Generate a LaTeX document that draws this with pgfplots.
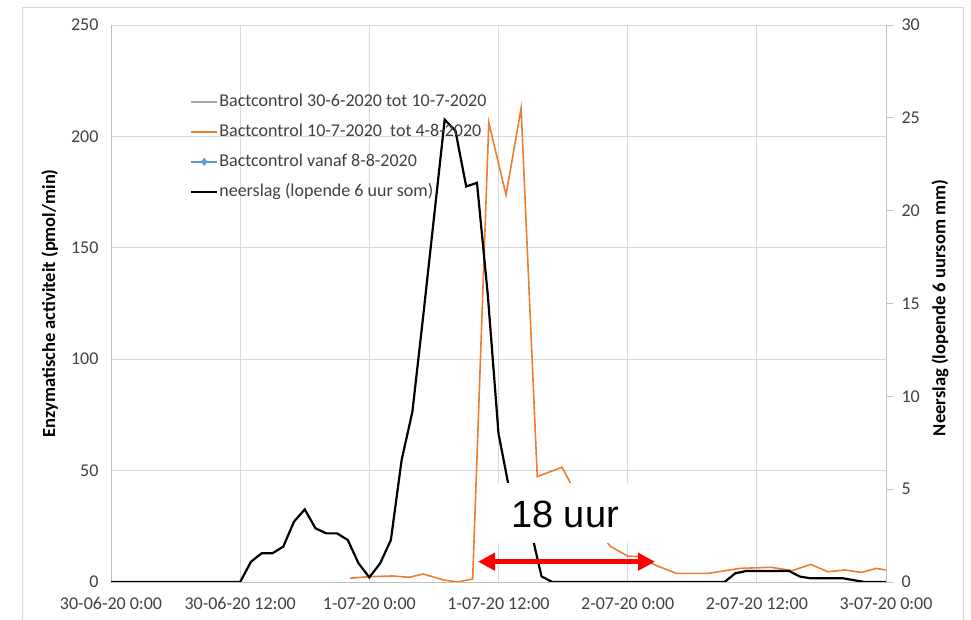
\documentclass[border=0pt]{standalone}
\usepackage{pgfplots}
\pgfplotsset{compat=1.18}
\usepackage{pgfplotstable}
\usepackage{fontspec}
\setmainfont{Carlito}
\newfontfamily\arialfont{Liberation Sans}
\usetikzlibrary{arrows.meta}

\definecolor{xlorange}{HTML}{ED7D31}
\definecolor{xlgray}{HTML}{A5A5A5}
\definecolor{xlblue}{HTML}{5B9BD5}
\definecolor{gridgray}{HTML}{D9D9D9}
\definecolor{axisgray}{HTML}{BFBFBF}
\definecolor{txtgray}{HTML}{404040}

% neerslag, lopende 6 uur som (mm), per uur vanaf 30-06-20 0:00
\pgfplotstableread{
h mm
0 0
1 0
2 0
3 0
4 0
5 0
6 0
7 0
8 0
9 0
10 0
11 0
12 0
13 1.09
14 1.55
15 1.55
16 1.9
17 3.25
18 3.91
19 2.89
20 2.62
21 2.62
22 2.26
23 1.0
24 0.25
25 1.0
26 2.26
27 6.57
28 9.17
29 14.3
30 19.6
31 24.9
32 24.3
33 21.3
34 21.5
35 15.5
36 8.0
37 5.0
38 3.9
39 2.8
40 0.3
41 0
42 0
43 0
44 0
45 0
46 0
47 0
48 0
49 0
50 0
51 0
52 0
53 0
54 0
55 0
56 0
57 0
58 0.47
59 0.59
60 0.59
61 0.59
62 0.59
63 0.59
64 0.29
65 0.2
66 0.2
67 0.2
68 0.2
69 0.1
70 0
71 0
72 0
}\neerslag

% Bactcontrol 10-7-2020 tot 4-8-2020 (pmol/min)
\pgfplotstableread{
h act
22.2 1.7
24.0 2.4
26.2 2.7
27.7 2.1
29.0 3.6
30.9 0.9
32.2 0.0
33.6 1.35
35.1 206.2
36.7 173.7
38.1 212.6
39.6 47.3
41.9 51.5
43.4 38.0
45.0 24.0
46.4 16.0
48.0 11.6
49.0 11.4
50.6 7.5
52.5 3.9
55.5 3.9
58.4 6.1
61.3 6.6
63.3 5.1
65.0 7.9
66.6 4.6
68.2 5.4
69.7 4.3
71.1 6.1
72.0 5.4
}\bactcontrol

\begin{document}
\begin{tikzpicture}[x=1pt,y=1pt]
\useasboundingbox (0,0) rectangle (971,620);
\draw[gridgray, line width=0.8pt] (22,-20) rectangle (963,613);

\begin{axis}[
  scale only axis, width=775pt, height=557pt,
  at={(111pt,38pt)}, anchor=south west,
  xmin=0, xmax=72, ymin=0, ymax=250,
  xtick={0,12,...,72},
  xticklabels={30-06-20 0:00, 30-06-20 12:00, 1-07-20 0:00, 1-07-20 12:00, 2-07-20 0:00, 2-07-20 12:00, 3-07-20 0:00},
  ytick={0,50,...,250},
  axis x line*=bottom, axis y line*=left,
  axis line style={draw=axisgray, line width=0.8pt, -},
  major tick length=0pt,
  grid=major, major grid style={gridgray, line width=0.8pt},
  tick label style={font=\fontsize{18}{20}\selectfont, text=txtgray},
  xticklabel style={yshift=-12pt},
  yticklabel style={xshift=-9pt},
  /pgf/number format/assume math mode=true,
  ylabel={Enzymatische activiteit (pmol/min)},
  ylabel style={font=\bfseries\fontsize{18.5}{20}\selectfont, at={(axis description cs:-0.079,0.5)}, anchor=center},
]
\addplot[xlorange, line width=1.6pt] table[x=h, y=act] {\bactcontrol};
\end{axis}

\begin{axis}[
  scale only axis, width=775pt, height=557pt,
  at={(111pt,38pt)}, anchor=south west,
  xmin=0, xmax=72, ymin=0, ymax=30,
  ytick={0,5,...,30}, xtick=\empty,
  axis y line*=right, axis x line=none,
  axis line style={draw=axisgray, line width=0.8pt, -},
  tick align=outside, major tick length=7pt,
  tick style={axisgray, line width=0.8pt},
  tick label style={font=\fontsize{18}{20}\selectfont, text=txtgray},
  yticklabel style={xshift=5pt},
  /pgf/number format/assume math mode=true,
  ylabel={Neerslag (lopende 6 uursom mm)},
  ylabel style={font=\bfseries\fontsize{18.5}{20}\selectfont, at={(axis description cs:1.0697,0.492)}, anchor=center},
  legend style={at={(axis description cs:0.098,0.883)}, anchor=north west,
    draw=none, fill=none, font=\fontsize{18}{20}\selectfont, text=txtgray,
    nodes={inner sep=1pt, text height=13pt, text depth=4pt}, row sep=11pt},
  legend cell align=left,
  legend image code/.code={\draw[mark repeat=2, mark phase=2, #1] plot coordinates {(0pt,0pt) (13pt,0pt) (26pt,0pt)};},
]
\addlegendimage{xlgray, line width=2pt}
\addlegendentry{Bactcontrol 30-6-2020 tot 10-7-2020}
\addlegendimage{xlorange, line width=2pt}
\addlegendentry{Bactcontrol 10-7-2020~ tot 4-8-2020}
\addlegendimage{xlblue, line width=2pt, mark=diamond*, mark size=2.5pt, mark options={xlblue}}
\addlegendentry{Bactcontrol vanaf 8-8-2020}
\addplot[black, line width=2.2pt] table[x=h, y=mm] {\neerslag};
\addlegendentry{neerslag (lopende 6 uur som)}
\end{axis}

% annotatie: vertraging tussen neerslag en activiteit
\fill[white] (498,77) rectangle (660,137);
\node[font=\arialfont\fontsize{38}{40}\selectfont, text=black] at (565,106) {18 uur};
\draw[red, line width=5pt, {Triangle[length=17pt,width=17pt]}-{Triangle[length=17pt,width=17pt]}] (478,58.3) -- (655,58.3);
\end{tikzpicture}
\end{document}
